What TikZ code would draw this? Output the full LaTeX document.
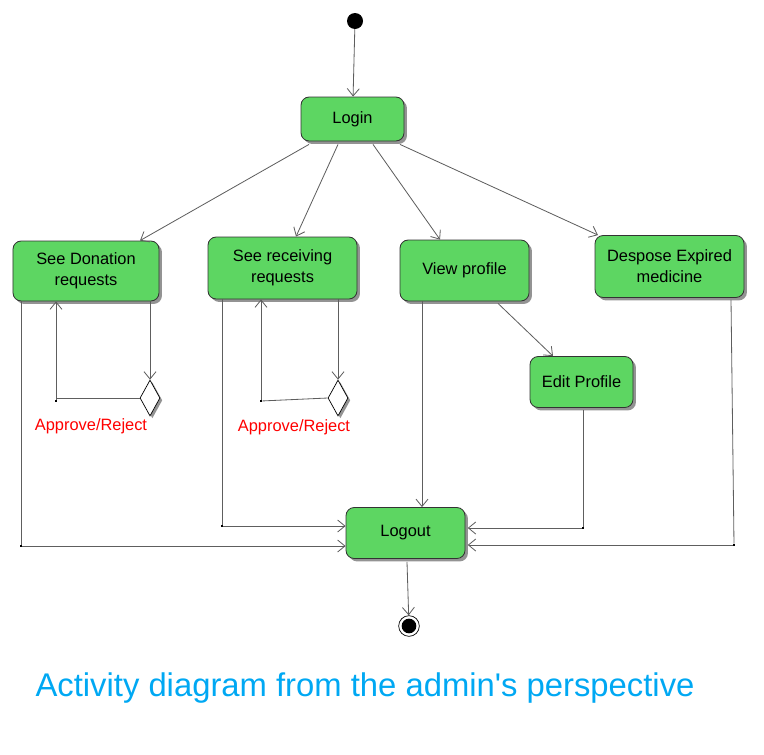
\documentclass[tikz,border=0pt]{standalone}
\usepackage{fontspec}
\setmainfont{Liberation Sans}
\newfontfamily\plainsans{Liberation Sans}
\usepackage{tikz}
\usetikzlibrary{arrows.meta,positioning,calc,shapes.geometric,shadows}
\definecolor{actgreen}{HTML}{5DD662}
\definecolor{boxline}{HTML}{333333}
\definecolor{linegray}{HTML}{5E5E5E}
\definecolor{titleblue}{HTML}{00A8F3}
\tikzset{
  act/.style={draw=boxline, rounded corners=7pt, line width=.7pt, fill=actgreen, align=center, inner sep=2pt,
    font=\fontsize{14}{18}\selectfont,
    drop shadow={shadow xshift=2.5pt, shadow yshift=-2.5pt, fill=gray!85, opacity=1}},
  choice/.style={diamond, draw=black, fill=white, line width=.6pt, inner sep=0pt,
    minimum width=.6cm, minimum height=1.08cm,
    drop shadow={shadow xshift=2pt, shadow yshift=-2pt, fill=gray!85, opacity=1}},
  ar/.style={-{Straight Barb[length=2.2mm, width=3.6mm]}, line width=.7pt, draw=linegray},
  ln/.style={line width=.7pt, draw=linegray},
  jn/.style={fill=black, inner sep=0pt, minimum size=2pt},
  lbl/.style={font=\fontsize{14}{16}\selectfont, text=red},
}
\begin{document}
\begin{tikzpicture}[x=0.03cm, y=-0.03cm]
  \useasboundingbox (0,0) rectangle (764,754);
  % start / stop
  \node[circle, fill=black, minimum size=.48cm, inner sep=0] (start) at (355,21) {};
  \node[circle, draw=black, line width=.6pt, fill=white, minimum size=.62cm, inner sep=0] (stop) at (409,626) {};
  \node[circle, fill=black, minimum size=.44cm, inner sep=0] at (stop) {};
  % activities
  \node[act, minimum width=3.09cm, minimum height=1.32cm] (login) at (352.5,119) {Login};
  \node[act, minimum width=4.38cm, minimum height=1.8cm] (donation) at (86,271) {See Donation\\requests};
  \node[act, minimum width=4.47cm, minimum height=1.86cm] (receiving) at (282.5,268) {See receiving\\requests};
  \node[act, minimum width=3.87cm, minimum height=1.83cm] (viewprof) at (464.5,270.5) {View profile};
  \node[act, minimum width=4.47cm, minimum height=1.86cm] (dispose) at (669.5,266.5) {Despose Expired\\medicine};
  \node[act, minimum width=3.09cm, minimum height=1.53cm] (editprof) at (581.5,382) {Edit Profile};
  \node[act, minimum width=3.57cm, minimum height=1.53cm] (logout) at (405.5,533) {Logout};
  % decisions
  \node[choice] (dia1) at (150,398) {};
  \node[choice] (dia2) at (338,398) {};
  \node[lbl] (lbl1) at (91,426) {Approve/Reject};
  \node[lbl] (lbl2) at (294,427) {Approve/Reject};
  % junction points
  \node[jn] (j1) at (56,401) {};
  \node[jn] (j2) at (261,401) {};
  \node[jn] (j3) at (21,546) {};
  \node[jn] (j4) at (222,526) {};
  \node[jn] (j5) at (583,528) {};
  \node[jn] (j6) at (734,545) {};

  \draw[ar] (start) -- (login);
  \foreach \s/\t/\e in {-43.5/donation/54, -14.5/receiving/13.5, 20.5/viewprof/-24.5, 47.5/dispose/-71.5}{
    \draw[ar] ($(login.south)+(\s,3)$) -- ($(\t.north)+(\e,0)$);
  }
  % approve / reject loops
  \draw[ar] (donation.south -| dia1.north) -- (dia1.north);
  \draw[ln] (dia1.west) -- (dia1.west -| j1) -- (j1);
  \draw[ar] (j1) -- (donation.south -| j1);
  \draw[ar] (receiving.south -| dia2.north) -- (dia2.north);
  \draw[ln] (dia2.west) -- (j2);
  \draw[ar] (j2) -- (receiving.south -| j2);
  % to logout
  \draw[ln] (donation.south -| j3) -- (j3);
  \draw[ar] (j3) -- (logout.west |- j3);
  \draw[ln] (receiving.south -| j4) -- (j4);
  \draw[ar] (j4) -- (logout.west |- j4);
  \draw[ar] ($(viewprof.south)+(-42.5,0)$) -- (logout.north -| 422,0);
  \draw[ar] ($(viewprof.south)+(33.5,2)$) -- ($(editprof.north)+(-28.5,0)$);
  \draw[ln] ($(editprof.south)+(1.5,2)$) -- (j5);
  \draw[ar] (j5) -- ([xshift=2pt]logout.east |- j5);
  \draw[ln] ($(dispose.south)+(61.5,2)$) -- (j6);
  \draw[ar] (j6) -- ([xshift=2pt]logout.east |- j6);
  \draw[ar] ($(logout.south)+(1.5,3)$) -- (stop);

  \node[font=\plainsans\fontsize{28}{32}\selectfont, text=titleblue] (title) at (365,688) {Activity diagram from the admin's perspective};
\end{tikzpicture}
\end{document}
